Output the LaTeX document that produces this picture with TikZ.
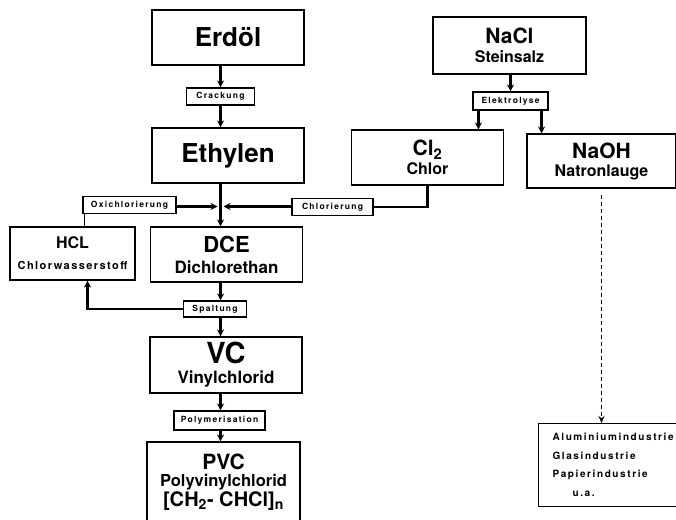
\documentclass[tikz,border=0pt]{standalone}
\usepackage{fontspec}
\setmainfont{TeX Gyre Heros}
\usepackage{tikz}
\usetikzlibrary{arrows.meta, positioning}
\tikzstyle{stoff} = [draw, line width=1.1pt, minimum width=152pt, minimum height=55pt, align=center, inner sep=0pt, font=\bfseries\fontsize{16}{20}\selectfont]
\tikzstyle{prozess} = [draw, line width=1.1pt, minimum height=17pt, inner sep=0pt, font=\bfseries\fontsize{8.5}{9}\selectfont\addfontfeatures{LetterSpace=15}]
\tikzstyle{pfeil} = [line width=2.8pt, -{Stealth[length=7pt, width=7pt]}]
\tikzstyle{linie} = [line width=2.8pt]
\newcommand{\gross}[2]{{\fontsize{#1}{#1}\selectfont #2}}

\begin{document}
\begin{tikzpicture}[x=1pt, y=1pt]
\useasboundingbox (0,0) rectangle (676,519);

\node (erdoel) [stoff] at (228,481.5) {\gross{26}{Erdöl}};
\node (crackung) [prozess, minimum width=68pt] at (220.5,422.5) {Crackung};
\node (ethylen) [stoff] at (228,363.5) {\gross{26}{Ethylen}};
\coordinate (j) at (220.5,312.5);
\node (oxi) [prozess, minimum width=93pt] at (129.5,314) {Oxichlorierung};
\node (chlorierung) [prozess, minimum width=81pt] at (332.5,312) {Chlorierung};
\node (hcl) [stoff, minimum width=125pt, minimum height=53pt] at (72.5,265.5) {\gross{16}{HCL}\\[1pt]{\fontsize{11}{13}\selectfont\addfontfeatures{LetterSpace=13}Chlorwasserstoff}};
\node (dce) [stoff] at (226.5,264.5) {\gross{22}{DCE}\\[1pt]\gross{17}{Dichlorethan}};
\node (spaltung) [prozess, minimum width=63pt, minimum height=16pt] at (215,210) {Spaltung};
\node (vc) [stoff, minimum height=56pt] at (226,154) {\gross{29}{VC}\\\gross{17}{Vinylchlorid}};
\node (poly) [prozess, minimum width=91pt, minimum height=19pt] at (219.5,98.5) {Polymerisation};
\node (pvc) [stoff, minimum width=153pt, minimum height=80pt] at (223.5,37) {\gross{21}{PVC}\\[-3pt]\gross{16.5}{Polyvinylchlorid}\\\gross{20}{[CH\textsubscript{2}- CHCl]\textsubscript{n}}};

\node (nacl) [stoff, minimum width=153pt, minimum height=57pt] at (509.5,473.5) {\gross{21}{NaCl}\\[-1pt]Steinsalz};
\node (elektrolyse) [prozess, minimum width=75pt, minimum height=18pt] at (510.5,418) {Elektrolyse};
\node (chlor) [stoff] at (427.5,361.5) {\gross{21}{Cl\textsubscript{2}}\\[-1pt]Chlor};
\node (naoh) [stoff, minimum width=149pt, minimum height=54pt] at (601.5,358) {\gross{21}{NaOH}\\[-2pt]Natronlauge};
\node (industrie) [draw, line width=1.1pt, anchor=north west, align=left, minimum height=83pt, inner xsep=14pt, font=\bfseries\fontsize{10}{18.5}\selectfont\addfontfeatures{LetterSpace=16}] at (538,96) {Aluminiumindustrie\\Glasindustrie\\Papierindustrie\\\hspace*{20pt}u.a.};

\coordinate (links) at ([xshift=6pt]elektrolyse.south west);
\coordinate (rechts) at ([xshift=-7pt]elektrolyse.south east);
\coordinate (hoch) at ([xshift=12pt]hcl.north);
\coordinate (rueck) at ([xshift=15pt]hcl.south);

\draw [pfeil] (erdoel.south -| crackung) -- (crackung.north);
\draw [pfeil] (crackung.south) -- (ethylen.north -| crackung);
\draw [pfeil] (ethylen.south -| crackung) -- (dce.north -| crackung);
\draw [pfeil, shorten >=3pt] (oxi.east |- j) -- (j);
\draw [pfeil, shorten >=3pt] (chlorierung.west |- j) -- (j);
\draw [linie] (chlor.south) |- (chlorierung.east);
\draw [line width=1.8pt] (hoch) -- (hoch |- oxi.south);
\draw [pfeil] (dce.south -| crackung) -- (spaltung.north -| crackung);
\draw [pfeil] (spaltung.south -| crackung) -- (vc.north -| crackung);
\draw [pfeil] (spaltung.west) -| (rueck);
\draw [pfeil] (vc.south -| crackung) -- (poly.north -| crackung);
\draw [pfeil] (poly.south -| crackung) -- (pvc.north -| crackung);
\draw [pfeil] (nacl.south -| elektrolyse) -- (elektrolyse.north);
\draw [pfeil] (links) -- (links |- chlor.north);
\draw [pfeil] (rechts) -- (rechts |- naoh.north);
\draw [dash pattern=on 4pt off 3pt, line width=1.1pt, -{Stealth[length=7pt, width=6pt]}] ([yshift=-6pt]naoh.south) -- (naoh.south |- industrie.north);
\end{tikzpicture}
\end{document}
